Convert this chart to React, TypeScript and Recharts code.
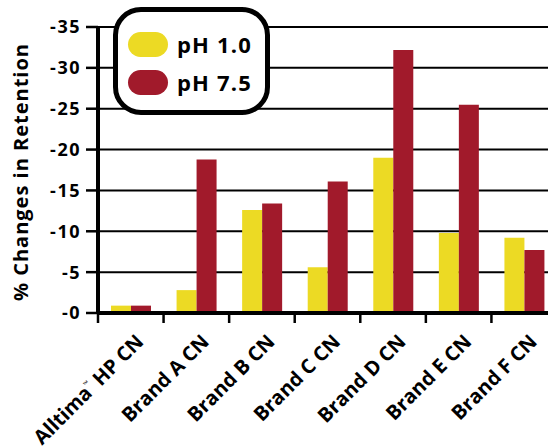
import { BarChart, Bar, XAxis, YAxis, CartesianGrid, Legend, Label } from "recharts";

const CATEGORIES = [
  "Alltima™ HP CN",
  "Brand A CN",
  "Brand B CN",
  "Brand C CN",
  "Brand D CN",
  "Brand E CN",
  "Brand F CN",
];
const PH_1_0 = [-0.9, -2.8, -12.6, -5.6, -19.0, -9.8, -9.2];
const PH_7_5 = [-0.9, -18.8, -13.4, -16.1, -32.2, -25.5, -7.7];
const Y_TICKS = [-35, -30, -25, -20, -15, -10, -5, 0];

const YELLOW = "#ECDA24";
const RED = "#A11A2B";
const FONT = "'Open Sans', sans-serif";

const data = CATEGORIES.map((name, i) => ({
  name,
  ph10: PH_1_0[i],
  ph75: PH_7_5[i],
}));

// x ticks sit on the category boundaries, labels rotated under the centre
function XTick({ x, y, width, index, payload }: any) {
  const band = width / CATEGORIES.length;
  const left = x - band / 2;
  const label: string = payload.value;
  const tm = label.indexOf("™");
  const tx = x + 14;
  const ty = y + 20;
  return (
    <g>
      <line x1={left} x2={left} y1={y - 10} y2={y} stroke="#000" strokeWidth={2.5} />
      {index === CATEGORIES.length - 1 && (
        <line x1={left + band} x2={left + band} y1={y - 10} y2={y} stroke="#000" strokeWidth={2.5} />
      )}
      <text
        x={tx}
        y={ty}
        transform={`rotate(-45 ${tx} ${ty})`}
        textAnchor="end"
        fontFamily={FONT}
        fontWeight={700}
        fontSize={20}
        fill="#000"
      >
        {tm >= 0 ? (
          <>
            {label.slice(0, tm)}
            <tspan fontSize={7} dy={-10}>™</tspan>
            <tspan dy={10}>{" " + label.slice(tm + 1)}</tspan>
          </>
        ) : (
          label
        )}
      </text>
    </g>
  );
}

function YTitle({ viewBox }: any) {
  const cx = viewBox.x + 20;
  const cy = viewBox.y + viewBox.height / 2 + 2;
  return (
    <text
      x={cx}
      y={cy}
      transform={`rotate(-90 ${cx} ${cy})`}
      textAnchor="middle"
      dominantBaseline="central"
      fontFamily={FONT}
      fontWeight={700}
      fontSize={20}
      letterSpacing={1}
      fill="#000"
    >
      % Changes in Retention
    </text>
  );
}

function LegendBox({ payload }: any) {
  return (
    <div
      style={{
        boxSizing: "border-box",
        width: 157,
        height: 108,
        border: "5px solid #000",
        borderRadius: 28,
        background: "#fff",
        paddingTop: 13,
        paddingLeft: 10,
      }}
    >
      {(payload || []).map((e: any) => (
        <div key={e.value} style={{ display: "flex", alignItems: "center", height: 38 }}>
          <span
            style={{
              display: "inline-block",
              width: 40,
              height: 25,
              borderRadius: 13,
              background: e.color,
            }}
          />
          <span
            style={{
              marginLeft: 9,
              fontFamily: FONT,
              fontWeight: 700,
              fontSize: 22,
              letterSpacing: 1.2,
              color: "#000",
            }}
          >
            {e.value}
          </span>
        </div>
      ))}
    </div>
  );
}

export default function App() {
  return (
    <div
      style={{
        position: "fixed",
        left: 0,
        top: 0,
        width: 548,
        height: 448,
        overflow: "hidden",
        background: "#fff",
      }}
    >
      <BarChart
        width={560}
        height={448}
        data={data}
        margin={{ top: 27, right: 3, left: 0, bottom: 0 }}
        barGap={0}
        barSize={20}
      >
        <CartesianGrid horizontal vertical={false} stroke="#000" strokeWidth={2} />
        <XAxis
          dataKey="name"
          interval={0}
          height={135}
          tickSize={10}
          tickMargin={0}
          tickLine={false}
          axisLine={{ stroke: "#000", strokeWidth: 4 }}
          tick={<XTick />}
        />
        <YAxis
          type="number"
          domain={[-35, 0]}
          reversed
          ticks={Y_TICKS}
          interval={0}
          width={98}
          tickSize={12}
          tickMargin={5}
          axisLine={{ stroke: "#000", strokeWidth: 4 }}
          tickLine={{ stroke: "#000", strokeWidth: 2.5 }}
          tick={{ fill: "#000", fontFamily: FONT, fontWeight: 700, fontSize: 18, letterSpacing: 1.5 }}
          tickFormatter={(v: number) => (v === 0 ? "-0" : String(v))}
        >
          <Label content={<YTitle />} />
        </YAxis>
        <Legend
          layout="horizontal"
          verticalAlign="middle"
          align="center"
          wrapperStyle={{ left: 113, top: 7, width: 157, height: 108 }}
          content={<LegendBox />}
        />
        <Bar dataKey="ph10" name="pH 1.0" fill={YELLOW} isAnimationActive={false} />
        <Bar dataKey="ph75" name="pH 7.5" fill={RED} isAnimationActive={false} />
      </BarChart>
    </div>
  );
}
